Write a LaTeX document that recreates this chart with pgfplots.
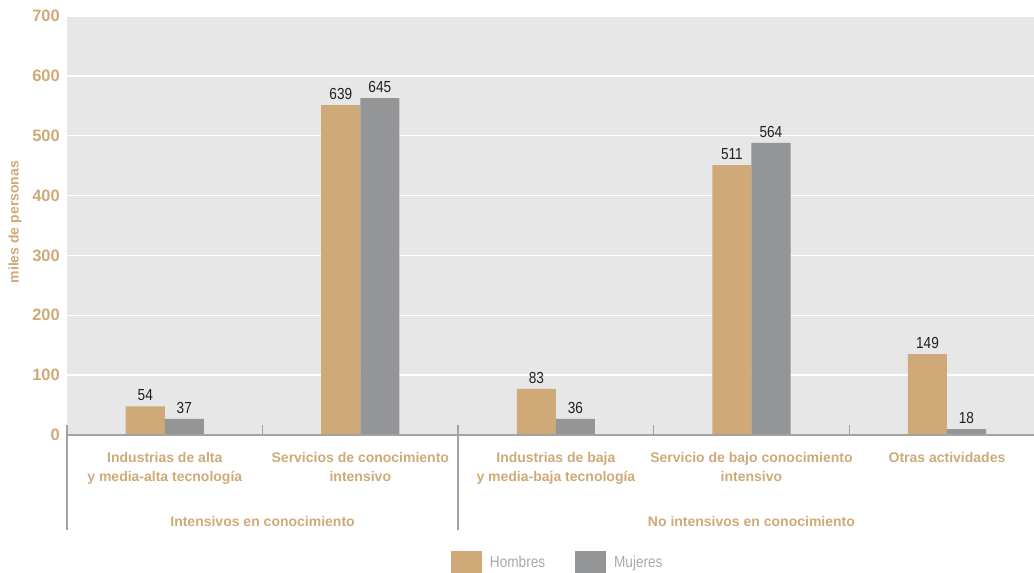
\documentclass[border=0pt]{standalone}
\usepackage{pgfplots}
\pgfplotsset{compat=1.18}
\usepackage{fontspec}
\setmainfont{Liberation Sans}
\newfontfamily\cond[FakeStretch=0.85]{Liberation Sans}
\usetikzlibrary{calc}
\definecolor{tan}{HTML}{CFA978}
\definecolor{bargray}{HTML}{949596}
\definecolor{bg}{HTML}{E6E7E6}
\definecolor{axgray}{HTML}{A3A3A3}
\definecolor{legtext}{HTML}{A7A9AC}
\definecolor{numtext}{HTML}{231F20}
\begin{document}
\begin{tikzpicture}
\begin{axis}[
  scale only axis, width=967bp, height=419bp,
  xmin=-0.5, xmax=4.445, ymin=0, ymax=700,
  clip=false,
  axis background/.style={fill=bg},
  axis line style={draw=none},
  ymajorgrids, grid style={white, line width=1.3bp},
  major tick length=0pt,
  /pgf/number format/assume math mode=true,
  ytick={0,100,...,700},
  yticklabel style={text=tan, inner sep=0pt, anchor=east, xshift=-7bp,
    font=\fontsize{16.5bp}{18bp}\selectfont\bfseries},
  xtick={0,1,2,3,4},
  xticklabels={{Industrias de alta\\y media-alta tecnología},
    {Servicios de conocimiento\\intensivo},
    {Industrias de baja\\y media-baja tecnología},
    {Servicio de bajo conocimiento\\intensivo},
    {Otras actividades}},
  xticklabel style={text=tan, inner sep=0pt, anchor=north, yshift=-17bp, align=center,
    font=\fontsize{14bp}{19.5bp}\selectfont\bfseries},
  ylabel={miles de personas},
  ylabel style={at={(axis description cs:-0.0538,0.508)}, anchor=center, text=tan,
    font=\fontsize{14bp}{16bp}\selectfont\bfseries},
  legend columns=2,
  legend image code/.code={\fill[#1] (0bp,-11bp) rectangle (31bp,11bp);},
  legend style={draw=none, fill=none, at={(0.3971,-0.3031)}, anchor=west,
    inner sep=0pt, outer sep=0pt,
    nodes={inner sep=0pt, text=legtext, font=\cond\fontsize{16bp}{18bp}\selectfont},
    /tikz/every odd column/.append style={column sep=8bp},
    /tikz/every even column/.append style={column sep=30bp}},
  every node near coord/.append style={text=numtext, inner sep=0pt, anchor=south, yshift=5bp,
    font=\cond\fontsize{16bp}{18bp}\selectfont},
]
\addplot[ybar, bar width=0.2, bar shift=-0.1, fill=tan, draw=none,
  nodes near coords, point meta=explicit symbolic,
  every node near coord/.append style={xshift=-19.5bp}] table[meta=label] {
x y label
0 48 54
1 551 639
2 77 83
3 451 511
4 135 149
};
\addlegendentry{Hombres}
\addplot[ybar, bar width=0.2, bar shift=0.1, fill=bargray, draw=none,
  nodes near coords, point meta=explicit symbolic,
  every node near coord/.append style={xshift=19.5bp}] table[meta=label] {
x y label
0 27 37
1 563 645
2 27 36
3 488 564
4 10 18
};
\addlegendentry{Mujeres}
% axis line and separators
\draw[axgray, line width=1.6bp] (axis cs:-0.5,0) -- (axis cs:4.445,0);
\draw[axgray, line width=1.6bp] ([yshift=10bp]axis cs:-0.5,0) -- ([yshift=-95bp]axis cs:-0.5,0);
\draw[axgray, line width=1.6bp] ([yshift=10bp]axis cs:1.5,0) -- ([yshift=-95bp]axis cs:1.5,0);
\draw[axgray, line width=1.3bp] (axis cs:0.5,0) -- ([yshift=10bp]axis cs:0.5,0);
\draw[axgray, line width=1.3bp] (axis cs:2.5,0) -- ([yshift=10bp]axis cs:2.5,0);
\draw[axgray, line width=1.3bp] (axis cs:3.5,0) -- ([yshift=10bp]axis cs:3.5,0);
% group labels
\node[anchor=base, inner sep=0pt, text=tan, font=\fontsize{14bp}{16bp}\selectfont\bfseries]
  at ([yshift=-91bp]axis cs:0.5,0) {Intensivos en conocimiento};
\node[anchor=base, inner sep=0pt, text=tan, font=\fontsize{14bp}{16bp}\selectfont\bfseries]
  at ([yshift=-91bp]axis cs:3,0) {No intensivos en conocimiento};
\end{axis}
\pgfresetboundingbox
\path[use as bounding box] ([xshift=-67bp,yshift=-138bp]current axis.south west) rectangle ([yshift=16bp]current axis.north east);
\end{tikzpicture}
\end{document}
